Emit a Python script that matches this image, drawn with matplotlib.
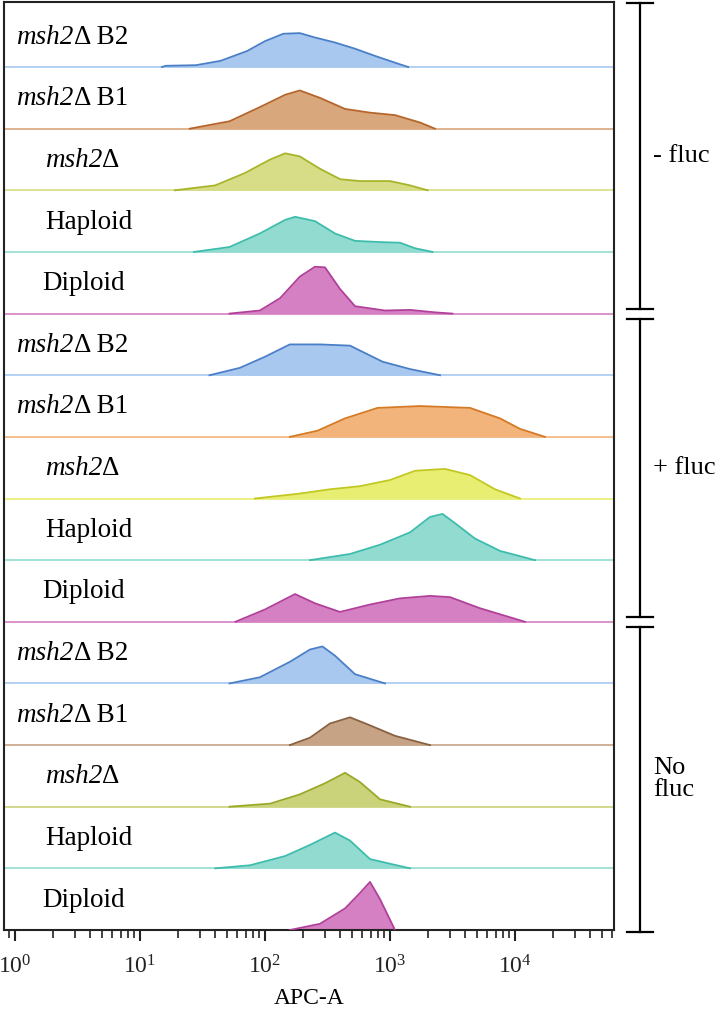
import numpy as np
import matplotlib
matplotlib.use('Agg')
import matplotlib.pyplot as plt
from matplotlib import transforms

plt.rcParams['font.family'] = ['Liberation Serif', 'DejaVu Serif']
plt.rcParams['mathtext.fontset'] = 'custom'
plt.rcParams['mathtext.rm'] = 'Liberation Serif'
plt.rcParams['mathtext.it'] = 'Liberation Serif:italic'

# rows from top to bottom: (italic part, upright part)
labels = [('msh2', 'Δ B2'), ('msh2', 'Δ B1'), ('msh2', 'Δ'), ('', 'Haploid'), ('', 'Diploid')] * 3
groups = ['- fluc', '+ fluc', 'No\nfluc']

# APC-A values and heights (fraction of a row)
x_b2_minus = [15, 16, 28, 44, 72, 100, 140, 190, 250, 360, 520, 760, 1100, 1400]
h_b2_minus = [0, 0.02, 0.03, 0.10, 0.26, 0.42, 0.54, 0.55, 0.48, 0.40, 0.30, 0.18, 0.07, 0]
x_b1_minus = [25, 52, 91, 145, 190, 275, 437, 692, 1096, 1738, 2290]
h_b1_minus = [0, 0.12, 0.35, 0.55, 0.62, 0.50, 0.32, 0.26, 0.22, 0.10, 0]
x_msh_minus = [19, 40, 69, 110, 145, 190, 275, 400, 575, 1000, 1445, 2000]
h_msh_minus = [0, 0.08, 0.28, 0.50, 0.60, 0.55, 0.35, 0.18, 0.15, 0.15, 0.08, 0]
x_hap_minus = [27, 52, 91, 145, 174, 251, 363, 525, 832, 1200, 1585, 2190]
h_hap_minus = [0, 0.08, 0.30, 0.52, 0.57, 0.50, 0.30, 0.18, 0.16, 0.15, 0.06, 0]
x_dip_minus = [52, 91, 132, 190, 251, 302, 398, 525, 912, 1445, 2290, 3160]
h_dip_minus = [0, 0.05, 0.25, 0.60, 0.76, 0.75, 0.40, 0.12, 0.05, 0.06, 0.02, 0]

x_b2_plus = [36, 63, 100, 158, 275, 479, 871, 1445, 2512]
h_b2_plus = [0, 0.12, 0.30, 0.50, 0.50, 0.48, 0.22, 0.10, 0]
x_b1_plus = [158, 263, 437, 794, 1738, 4365, 7586, 10965, 17380]
h_b1_plus = [0, 0.10, 0.30, 0.47, 0.50, 0.47, 0.30, 0.13, 0]
x_msh_plus = [83, 190, 331, 575, 1000, 1585, 2754, 4365, 6918, 10965]
h_msh_plus = [0, 0.08, 0.15, 0.20, 0.30, 0.45, 0.48, 0.38, 0.15, 0]
x_hap_plus = [229, 479, 832, 1445, 2089, 2630, 3311, 4786, 7586, 14454]
h_hap_plus = [0, 0.10, 0.25, 0.45, 0.70, 0.75, 0.60, 0.35, 0.15, 0]
x_dip_plus = [58, 100, 174, 251, 398, 692, 1202, 2089, 3020, 5248, 12023]
h_dip_plus = [0, 0.20, 0.45, 0.30, 0.16, 0.28, 0.38, 0.42, 0.40, 0.22, 0]

x_b2_none = [52, 91, 158, 229, 288, 363, 525, 912]
h_b2_none = [0, 0.10, 0.35, 0.55, 0.60, 0.45, 0.15, 0]
x_b1_none = [158, 229, 331, 479, 692, 1096, 2089]
h_b1_none = [0, 0.12, 0.35, 0.45, 0.32, 0.15, 0]
x_msh_none = [52, 110, 190, 302, 437, 575, 832, 1445]
h_msh_none = [0, 0.05, 0.20, 0.38, 0.55, 0.40, 0.12, 0]
x_hap_none = [40, 76, 145, 229, 363, 479, 692, 1445]
h_hap_none = [0, 0.05, 0.20, 0.38, 0.58, 0.45, 0.15, 0]
x_dip_none = [158, 275, 437, 575, 692, 832, 1096]
h_dip_none = [0, 0.10, 0.35, 0.60, 0.78, 0.50, 0]

xs = [x_b2_minus, x_b1_minus, x_msh_minus, x_hap_minus, x_dip_minus,
      x_b2_plus, x_b1_plus, x_msh_plus, x_hap_plus, x_dip_plus,
      x_b2_none, x_b1_none, x_msh_none, x_hap_none, x_dip_none]
hs = [h_b2_minus, h_b1_minus, h_msh_minus, h_hap_minus, h_dip_minus,
      h_b2_plus, h_b1_plus, h_msh_plus, h_hap_plus, h_dip_plus,
      h_b2_none, h_b1_none, h_msh_none, h_hap_none, h_dip_none]

# (line, fill) per row
colors = [('#4a7fc8', '#a8c8ef'), ('#b5652a', '#d9a77c'), ('#a8b428', '#d6dd86'),
          ('#3cbcac', '#92dbd0'), ('#b0409a', '#d680c4'),
          ('#4a7fc8', '#a8c8ef'), ('#d47a25', '#f2b47a'), ('#c2c820', '#e8ee72'),
          ('#3cbcac', '#92dbd0'), ('#b0409a', '#d680c4'),
          ('#4a7fc8', '#a8c8ef'), ('#8a6040', '#c6a385'), ('#9aa828', '#cbd37a'),
          ('#3cbcac', '#92dbd0'), ('#b0409a', '#d680c4')]
label_x = [0.02, 0.02, 0.067, 0.067, 0.062] * 3

W, H = 718, 1019
fig = plt.figure(figsize=(W / 100, H / 100), dpi=100)
ax = fig.add_axes([4 / W, (H - 930) / H, 610 / W, 928 / H])
ax.set_xscale('log')
ax.set_xlim(10 ** (-11 / 125), 10 ** (599 / 125))
n = len(labels)
row_px = 61.64
ax.set_ylim(0, 928 / row_px)

lab_tr = transforms.blended_transform_factory(ax.transAxes, ax.transData)
for i in range(n):
    base = n - 1 - i
    line_c, fill_c = colors[i]
    ax.axhline(base, color=fill_c, lw=1.2, zorder=1)
    y = base + np.array(hs[i])
    ax.fill_between(xs[i], base, y, color=fill_c, lw=0, zorder=2)
    ax.plot(xs[i], y, color=line_c, lw=1.3, zorder=3)
    it_part, rm_part = labels[i]
    if it_part:
        t = ax.text(label_x[i], base + 0.38, it_part, transform=lab_tr,
                    fontsize=19.5, style='italic', ha='left', va='baseline')
        ax.annotate(rm_part, xy=(1, 0), xycoords=t, fontsize=19.5,
                    ha='left', va='bottom')
    else:
        ax.text(label_x[i], base + 0.38, rm_part, transform=lab_tr,
                fontsize=19.5, ha='left', va='baseline')

ax.set_yticks([])
for s in ax.spines.values():
    s.set_linewidth(1.5)
    s.set_color('#222222')
ax.tick_params(axis='x', which='major', direction='out', length=8, width=1.5,
               labelsize=17, pad=10, colors='#222222')
ax.tick_params(axis='x', which='minor', direction='out', length=6, width=1.2,
               colors='#222222')
ax.set_xlabel('APC-A', fontsize=17, labelpad=7)

# brackets on the right, in pixel coordinates
ov = fig.add_axes([0, 0, 1, 1])
ov.set_xlim(0, W)
ov.set_ylim(H, 0)
ov.axis('off')
for g, name in enumerate(groups):
    y0 = 3 if g == 0 else 930 - (n - 5 * g) * row_px + 5
    y1 = 932 if g == len(groups) - 1 else 930 - (n - 1 - (5 * g + 4)) * row_px - 5
    ov.plot([640, 640], [y0, y1], color='black', lw=1.6)
    ov.plot([627, 653], [y0, y0], color='black', lw=1.6)
    ov.plot([627, 653], [y1, y1], color='black', lw=1.6)
    ov.text(653, (y0 + y1) / 2, name, fontsize=19, ha='left', va='center',
            linespacing=1.0)

fig.savefig('out.png', dpi=100)
